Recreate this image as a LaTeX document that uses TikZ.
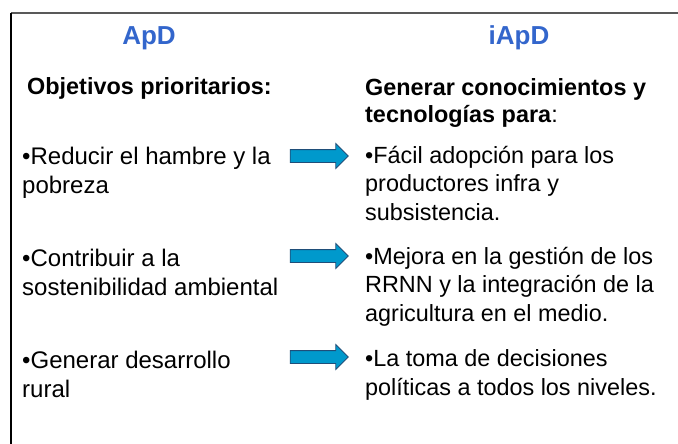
\documentclass[tikz,border=0pt]{standalone}
\usepackage{fontspec}
\setmainfont{Liberation Sans}
\usetikzlibrary{shapes.arrows, positioning}
\definecolor{titleblue}{HTML}{3366CC}
\definecolor{arrowfill}{HTML}{0099CC}
\definecolor{arrowline}{HTML}{1F4E79}

\begin{document}
\begin{tikzpicture}[
    x=1pt, y=-1pt,
    title/.style={font=\fontsize{26}{30}\selectfont\bfseries, text=titleblue, inner sep=0pt},
    heading/.style={font=\fontsize{23.4}{28}\selectfont\bfseries, align=left, anchor=base west, inner sep=0pt},
    item/.style={font=\fontsize{24}{28.5}\selectfont, align=left, anchor=base west, inner sep=0pt},
    ritem/.style={item, font=\fontsize{23.4}{28.5}\selectfont},
    blockarrow/.style={single arrow, draw=arrowline, fill=arrowfill, line width=0.8pt,
                       minimum height=58pt, minimum width=24pt, inner xsep=0pt, inner ysep=6pt,
                       single arrow head extend=6pt, single arrow head indent=0pt},
]
    \useasboundingbox (0,0) rectangle (678,444);

    % frame
    \draw[gray!70!black, line width=1.2pt] (11,13) -- (678,13);
    \draw[black, line width=1.2pt] (11,13) -- (11,444);

    % column titles
    \node[title] (apd)  at (149,38) {ApD};
    \node[title] (iapd) at (519,38) {iApD};

    % headings (anchored at the baseline of their last line)
    \node[heading] (objetivos) at (27,95) {Objetivos prioritarios:};
    \node[heading] (generar)   at (365,123) {Generar conocimientos y\\tecnologías para\textmd{:}};

    % left column
    \node[item] (reducir)    at (22,193) {•Reducir el hambre y la\\pobreza};
    \node[item] (contribuir) at (22,295) {•Contribuir a la\\sostenibilidad ambiental};
    \node[item] (desarrollo) at (22,397) {•Generar desarrollo\\rural};

    % right column
    \node[ritem] (adopcion) at (365,220) {•Fácil adopción para los\\productores infra y\\subsistencia.};
    \node[ritem] (gestion)  at (365,321) {•Mejora en la gestión de los\\RRNN y la integración de la\\agricultura en el medio.};
    \node[ritem] (toma)     at (365,395) {•La toma de decisiones\\políticas a todos los niveles.};

    % arrows between columns
    \node[blockarrow] (arr1) at (316,156) {};
    \node[blockarrow] (arr2) at (316,256) {};
    \node[blockarrow] (arr3) at (316,357) {};
\end{tikzpicture}
\end{document}
